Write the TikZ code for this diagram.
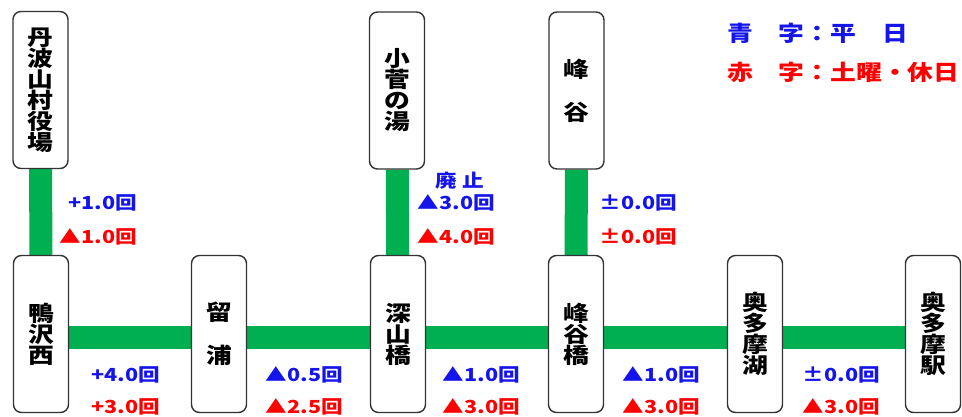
\documentclass[tikz,border=0pt]{standalone}
\usepackage{fontspec}
\setmainfont[FakeStretch=1.2]{Noto Sans CJK JP}
\usetikzlibrary{backgrounds}
\definecolor{lgreen}{RGB}{0,176,80}
\definecolor{lblue}{RGB}{20,20,235}
\definecolor{lred}{RGB}{255,0,0}
\tikzset{
  station/.style={draw=black!80, line width=1.4pt, rounded corners=8pt, fill=white,
    minimum width=55, minimum height=157, inner sep=0pt, align=center,
    font=\fontsize{21.5}{21}\selectfont\bfseries},
  wide/.style={font=\fontsize{21.5}{43}\selectfont\bfseries},
  route/.style={lgreen, line width=23pt},
  wday/.style={text=lblue, inner sep=0pt, font=\fontsize{18}{18}\selectfont\bfseries},
  hday/.style={wday, text=lred},
  legend/.style={anchor=west, font=\fontsize{21.5}{21.5}\selectfont\bfseries},
}
\begin{document}
\begin{tikzpicture}[x=1pt,y=-1pt]
\useasboundingbox (0,0) rectangle (962,416);

% stations
\node[station] (tanba) at (40.5,90) {丹\\波\\山\\村\\役\\場};
\node[station] (kosuge) at (397,90.5) {小\\菅\\の\\湯};
\node[station, wide] (mine) at (576.5,90.5) {峰\\谷};

\node[station] (kamo) at (41,334) {鴨\\沢\\西};
\node[station, wide] (rusu) at (219,334) {留\\浦};
\node[station] (fuka) at (398,334) {深\\山\\橋};
\node[station] (mineb) at (576,334) {峰\\谷\\橋};
\node[station] (okuko) at (755,334) {奥\\多\\摩\\湖};
\node[station] (okuek) at (933,334) {奥\\多\\摩\\駅};

% route
\begin{scope}[on background layer]
\draw[route] (tanba) -- (kamo);
\draw[route] (kosuge) -- (fuka);
\draw[route] (mine) -- (mineb);
\draw[route] ([yshift=-3pt]kamo.east) -- ([yshift=-3pt]okuek.west);
\end{scope}

% legend
\node[wday, legend] (lgblue) at (727,33) {青　字：平　日};
\node[hday, legend] (lgred) at (727,72) {赤　字：土曜・休日};

% changes, branches
\node[wday, anchor=east] (w1) at (137,203) {+1.0回};
\node[hday, anchor=east] (h1) at (137,237) {▲1.0回};

\node[wday] (stop) at (460,181) {廃 止};
\node[wday, anchor=east] (w2) at (495,203) {▲3.0回};
\node[hday, anchor=east] (h2) at (495,237) {▲4.0回};

\node[wday, anchor=east] (w3) at (677,203) {±0.0回};
\node[hday, anchor=east] (h3) at (677,237) {±0.0回};

% changes, main line
\node[wday, anchor=east] (w4) at (160,375) {+4.0回};
\node[hday, anchor=east] (h4) at (160,407) {+3.0回};

\node[wday, anchor=east] (w5) at (343,375) {▲0.5回};
\node[hday, anchor=east] (h5) at (343,407) {▲2.5回};

\node[wday, anchor=east] (w6) at (520,375) {▲1.0回};
\node[hday, anchor=east] (h6) at (520,407) {▲3.0回};

\node[wday, anchor=east] (w7) at (700,375) {▲1.0回};
\node[hday, anchor=east] (h7) at (700,407) {▲3.0回};

\node[wday, anchor=east] (w8) at (880,375) {±0.0回};
\node[hday, anchor=east] (h8) at (880,407) {▲3.0回};
\end{tikzpicture}
\end{document}
